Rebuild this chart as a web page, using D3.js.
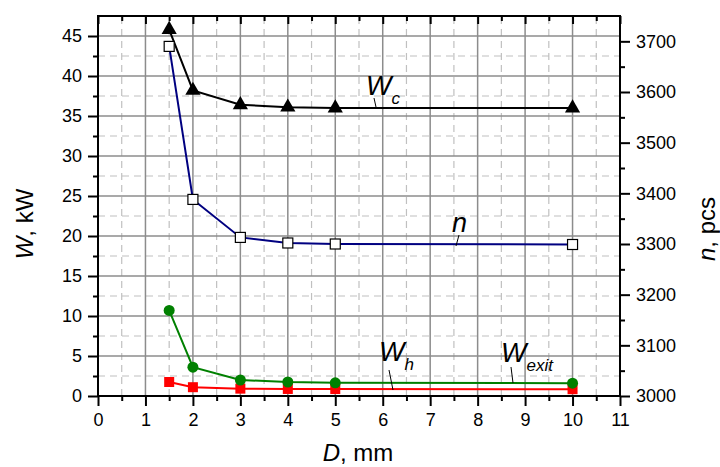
<!DOCTYPE html>
<html>
<head>
<meta charset="utf-8">
<script src="https://cdn.jsdelivr.net/npm/d3@7"></script>
<style>
  body { margin: 0; background: #fff; }
  text { font-family: "Liberation Sans", Arial, sans-serif; }
</style>
</head>
<body>
<script>
// data
var D = [1.5, 2, 3, 4, 5, 10];
var Wc = [45.8, 38.2, 36.4, 36.1, 36.0, 36.0];
var nPcs = [3690, 3388, 3313, 3302, 3300, 3299];
var Wexit = [10.7, 3.6, 2.0, 1.75, 1.65, 1.6];
var Wh = [1.75, 1.1, 0.92, 0.88, 0.87, 0.85];

var xTicks = d3.range(0, 12, 1);
var xMinor = d3.range(0.5, 11, 1);
var yTicks = d3.range(0, 50, 5);
var yMinor = d3.range(2.5, 47.5, 5);
var nTicks = d3.range(3000, 3800, 100);
var nMinor = d3.range(3050, 3750, 100);

var width = 720, height = 467;
var margin = {top: 16, right: 100, bottom: 71, left: 98};

var x = d3.scaleLinear().domain([0, 11]).range([margin.left, width - margin.right]);
var y = d3.scaleLinear().domain([0, 47.5]).range([height - margin.bottom, margin.top]);
var yN = d3.scaleLinear().domain([3000, 3750]).range([height - margin.bottom, margin.top]);

var svg = d3.select("body").append("svg")
    .attr("width", width)
    .attr("height", height);

var x0 = margin.left, x1 = width - margin.right;
var y0 = height - margin.bottom, y1 = margin.top;

// grid
var grid = svg.append("g");
grid.selectAll(".gxm").data(xMinor).join("line")
    .attr("x1", d => x(d)).attr("x2", d => x(d))
    .attr("y1", y0).attr("y2", y1)
    .attr("stroke", "#c0c0c0").attr("stroke-width", 1.2).attr("stroke-dasharray", "7,5");
grid.selectAll(".gym").data(yMinor).join("line")
    .attr("x1", x0).attr("x2", x1)
    .attr("y1", d => y(d)).attr("y2", d => y(d))
    .attr("stroke", "#c0c0c0").attr("stroke-width", 1.2).attr("stroke-dasharray", "7,5");
grid.selectAll(".gx").data(xTicks.slice(1, -1)).join("line")
    .attr("x1", d => x(d)).attr("x2", d => x(d))
    .attr("y1", y0).attr("y2", y1)
    .attr("stroke", "#8c8c8c").attr("stroke-width", 1.5);
grid.selectAll(".gy").data(yTicks.slice(1)).join("line")
    .attr("x1", x0).attr("x2", x1)
    .attr("y1", d => y(d)).attr("y2", d => y(d))
    .attr("stroke", "#8c8c8c").attr("stroke-width", 1.5);

// axes
function styleAxis(g) {
    g.select(".domain").remove();
    g.selectAll(".tick line").attr("stroke", "#000").attr("stroke-width", 2);
    g.selectAll(".tick text").attr("font-size", 18).attr("fill", "#000")
        .attr("font-family", "'Liberation Sans', Arial, sans-serif");
}

svg.append("g").attr("transform", `translate(0,${y0})`)
    .call(d3.axisBottom(x).tickValues(xTicks).tickSize(10).tickPadding(7).tickFormat(d3.format("d")))
    .call(styleAxis);
svg.append("g").attr("transform", `translate(0,${y0})`)
    .call(d3.axisBottom(x).tickValues(xMinor).tickSize(5).tickFormat(""))
    .call(styleAxis);
svg.append("g").attr("transform", `translate(0,${y1})`)
    .call(d3.axisBottom(x).tickValues(xTicks).tickSize(8).tickFormat(""))
    .call(styleAxis);
svg.append("g").attr("transform", `translate(0,${y1})`)
    .call(d3.axisBottom(x).tickValues(xMinor).tickSize(5).tickFormat(""))
    .call(styleAxis);

svg.append("g").attr("transform", `translate(${x0},0)`)
    .call(d3.axisLeft(y).tickValues(yTicks).tickSize(10).tickPadding(6).tickFormat(d3.format("d")))
    .call(styleAxis);
svg.append("g").attr("transform", `translate(${x0},0)`)
    .call(d3.axisLeft(y).tickValues(yMinor).tickSize(5).tickFormat(""))
    .call(styleAxis);

svg.append("g").attr("transform", `translate(${x1},0)`)
    .call(d3.axisRight(yN).tickValues(nTicks).tickSize(10).tickPadding(6).tickFormat(d3.format("d")))
    .call(styleAxis);
svg.append("g").attr("transform", `translate(${x1},0)`)
    .call(d3.axisRight(yN).tickValues(nMinor).tickSize(5).tickFormat(""))
    .call(styleAxis);

// frame
svg.append("rect")
    .attr("x", x0).attr("y", y1)
    .attr("width", x1 - x0).attr("height", y0 - y1)
    .attr("fill", "none").attr("stroke", "#000").attr("stroke-width", 2);

// series
function drawLine(vals, ys, color) {
    svg.append("path")
        .datum(D.map((d, i) => [d, vals[i]]))
        .attr("fill", "none")
        .attr("stroke", color)
        .attr("stroke-width", 2)
        .attr("d", d3.line().x(d => x(d[0])).y(d => ys(d[1])));
}
drawLine(Wh, y, "#ff0000");
drawLine(Wexit, y, "#008000");
drawLine(nPcs, yN, "#000080");
drawLine(Wc, y, "#000000");

svg.append("g").selectAll("rect").data(D).join("rect")
    .attr("x", (d) => x(d) - 5).attr("y", (d, i) => y(Wh[i]) - 5)
    .attr("width", 10).attr("height", 10)
    .attr("fill", "#ff0000");

svg.append("g").selectAll("circle").data(D).join("circle")
    .attr("cx", d => x(d)).attr("cy", (d, i) => y(Wexit[i]))
    .attr("r", 5.5).attr("fill", "#008000");

svg.append("g").selectAll("rect").data(D).join("rect")
    .attr("x", d => x(d) - 5).attr("y", (d, i) => yN(nPcs[i]) - 5)
    .attr("width", 10).attr("height", 10)
    .attr("fill", "#fff").attr("stroke", "#000").attr("stroke-width", 1.2);

var tri = d3.symbol().type(d3.symbolTriangle).size(100);
svg.append("g").selectAll("path").data(D).join("path")
    .attr("transform", (d, i) => `translate(${x(d)},${y(Wc[i])})`)
    .attr("d", tri)
    .attr("fill", "#000");

// series labels with leader lines
function seriesLabel(px, py, main, sub, lx1, ly1, lx2, ly2) {
    var t = svg.append("text")
        .attr("x", px).attr("y", py)
        .attr("font-size", 27).attr("font-style", "italic").attr("fill", "#000");
    t.append("tspan").text(main);
    if (sub) {
        t.append("tspan").attr("dy", 9).attr("font-size", 17).text(sub);
    }
    svg.append("line")
        .attr("x1", lx1).attr("y1", ly1).attr("x2", lx2).attr("y2", ly2)
        .attr("stroke", "#000").attr("stroke-width", 1);
}
seriesLabel(366, 95, "W", "c", 374, 98, 376, 107);
seriesLabel(452, 232, "n", null, 459, 235, 456, 246);
seriesLabel(379, 361, "W", "h", 389, 370, 393, 390);
seriesLabel(501, 362, "W", "exit", 511, 367, 513, 383);

// axis titles
var yt = svg.append("text")
    .attr("transform", "translate(33,224) rotate(-90)")
    .attr("text-anchor", "middle")
    .attr("font-size", 24).attr("fill", "#000");
yt.append("tspan").attr("font-style", "italic").text("W");
yt.append("tspan").text(", kW");

var nt = svg.append("text")
    .attr("transform", "translate(715,229) rotate(-90)")
    .attr("text-anchor", "middle")
    .attr("font-size", 24).attr("fill", "#000");
nt.append("tspan").attr("font-style", "italic").text("n");
nt.append("tspan").text(", pcs");

var xt = svg.append("text")
    .attr("x", 358).attr("y", 461)
    .attr("text-anchor", "middle")
    .attr("font-size", 24).attr("fill", "#000");
xt.append("tspan").attr("font-style", "italic").text("D");
xt.append("tspan").text(", mm");
</script>
</body>
</html>
